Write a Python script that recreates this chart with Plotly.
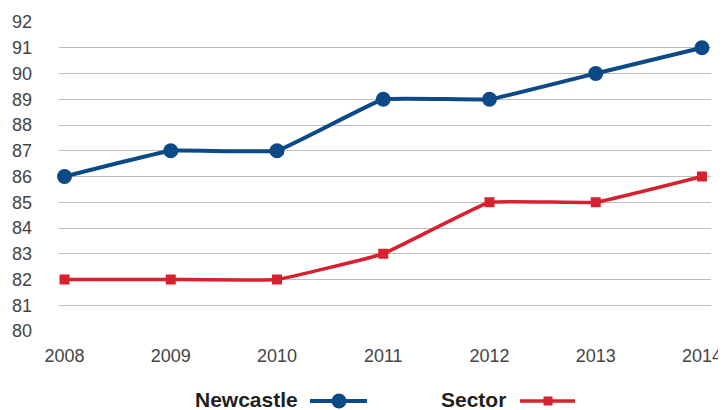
import plotly.graph_objects as go

years = [2008, 2009, 2010, 2011, 2012, 2013, 2014]
newcastle = [86, 87, 87, 89, 89, 90, 91]
sector = [82, 82, 82, 83, 85, 85, 86]
y_ticks = list(range(80, 93))

BLUE = "#0b4a86"
RED = "#d7212f"
FONT = "Liberation Sans, Arial, sans-serif"

fig = go.Figure()
fig.add_trace(go.Scatter(
    x=years, y=newcastle, name="Newcastle", mode="lines+markers",
    line=dict(color=BLUE, width=4, shape="spline", smoothing=0.25),
    marker=dict(symbol="circle", size=15, color=BLUE),
    cliponaxis=False, showlegend=False))
fig.add_trace(go.Scatter(
    x=years, y=sector, name="Sector", mode="lines+markers",
    line=dict(color=RED, width=3.5, shape="spline", smoothing=0.25),
    marker=dict(symbol="square", size=10, color=RED),
    cliponaxis=False, showlegend=False))

# page has an 8px body margin; compensate so the plot lands where intended
OFF = 8
PAGE_W, PAGE_H = 726, 410
PL, PR, PT, PB = 59, 711, 22, 331  # plot area in page pixels

def px(x):
    return (x - PL) / (PR - PL)

def py(y):
    return (PB - y) / (PB - PT)

shapes = []
annotations = []
# Legend: Newcastle
annotations.append(dict(x=px(300), y=py(399), xref="paper", yref="paper", text="<b>Newcastle</b>",
                        showarrow=False, xanchor="right", yanchor="middle",
                        font=dict(family=FONT, size=21, color="#231f20")))
shapes.append(dict(type="line", xref="paper", yref="paper", x0=px(310), x1=px(367), y0=py(401), y1=py(401),
                   line=dict(color=BLUE, width=4)))
shapes.append(dict(type="circle", xref="paper", yref="paper", x0=px(331.5), x1=px(346.5), y0=py(393.5), y1=py(408.5),
                   fillcolor=BLUE, line=dict(color=BLUE, width=0)))
# Legend: Sector
annotations.append(dict(x=px(508), y=py(399), xref="paper", yref="paper", text="<b>Sector</b>",
                        showarrow=False, xanchor="right", yanchor="middle",
                        font=dict(family=FONT, size=21, color="#231f20")))
shapes.append(dict(type="line", xref="paper", yref="paper", x0=px(520), x1=px(575), y0=py(401), y1=py(401),
                   line=dict(color=RED, width=3.5)))
shapes.append(dict(type="rect", xref="paper", yref="paper", x0=px(543.5), x1=px(552.5), y0=py(396.5), y1=py(405.5),
                   fillcolor=RED, line=dict(color=RED, width=0)))

fig.update_layout(
    width=PAGE_W - OFF, height=PAGE_H - OFF,
    margin=dict(l=PL - OFF, r=PAGE_W - PR, t=PT - OFF, b=PAGE_H - PB, autoexpand=False),
    paper_bgcolor="white", plot_bgcolor="white",
    font=dict(family=FONT, size=18, color="#444444"),
    showlegend=False,
    shapes=shapes, annotations=annotations,
    xaxis=dict(range=[2007.948, 2014.085], tickvals=years, ticktext=[str(y) for y in years],
               showgrid=False, zeroline=False, showline=False, ticks="", ticklabelstandoff=12,
               fixedrange=True, automargin=False),
    yaxis=dict(range=[80, 92], tickvals=y_ticks, showgrid=True, gridcolor="#bdbdbd", gridwidth=1,
               zeroline=False, showline=False, ticks="", ticklabelstandoff=26, fixedrange=True,
               automargin=False),
)

fig.write_html("out.html")
